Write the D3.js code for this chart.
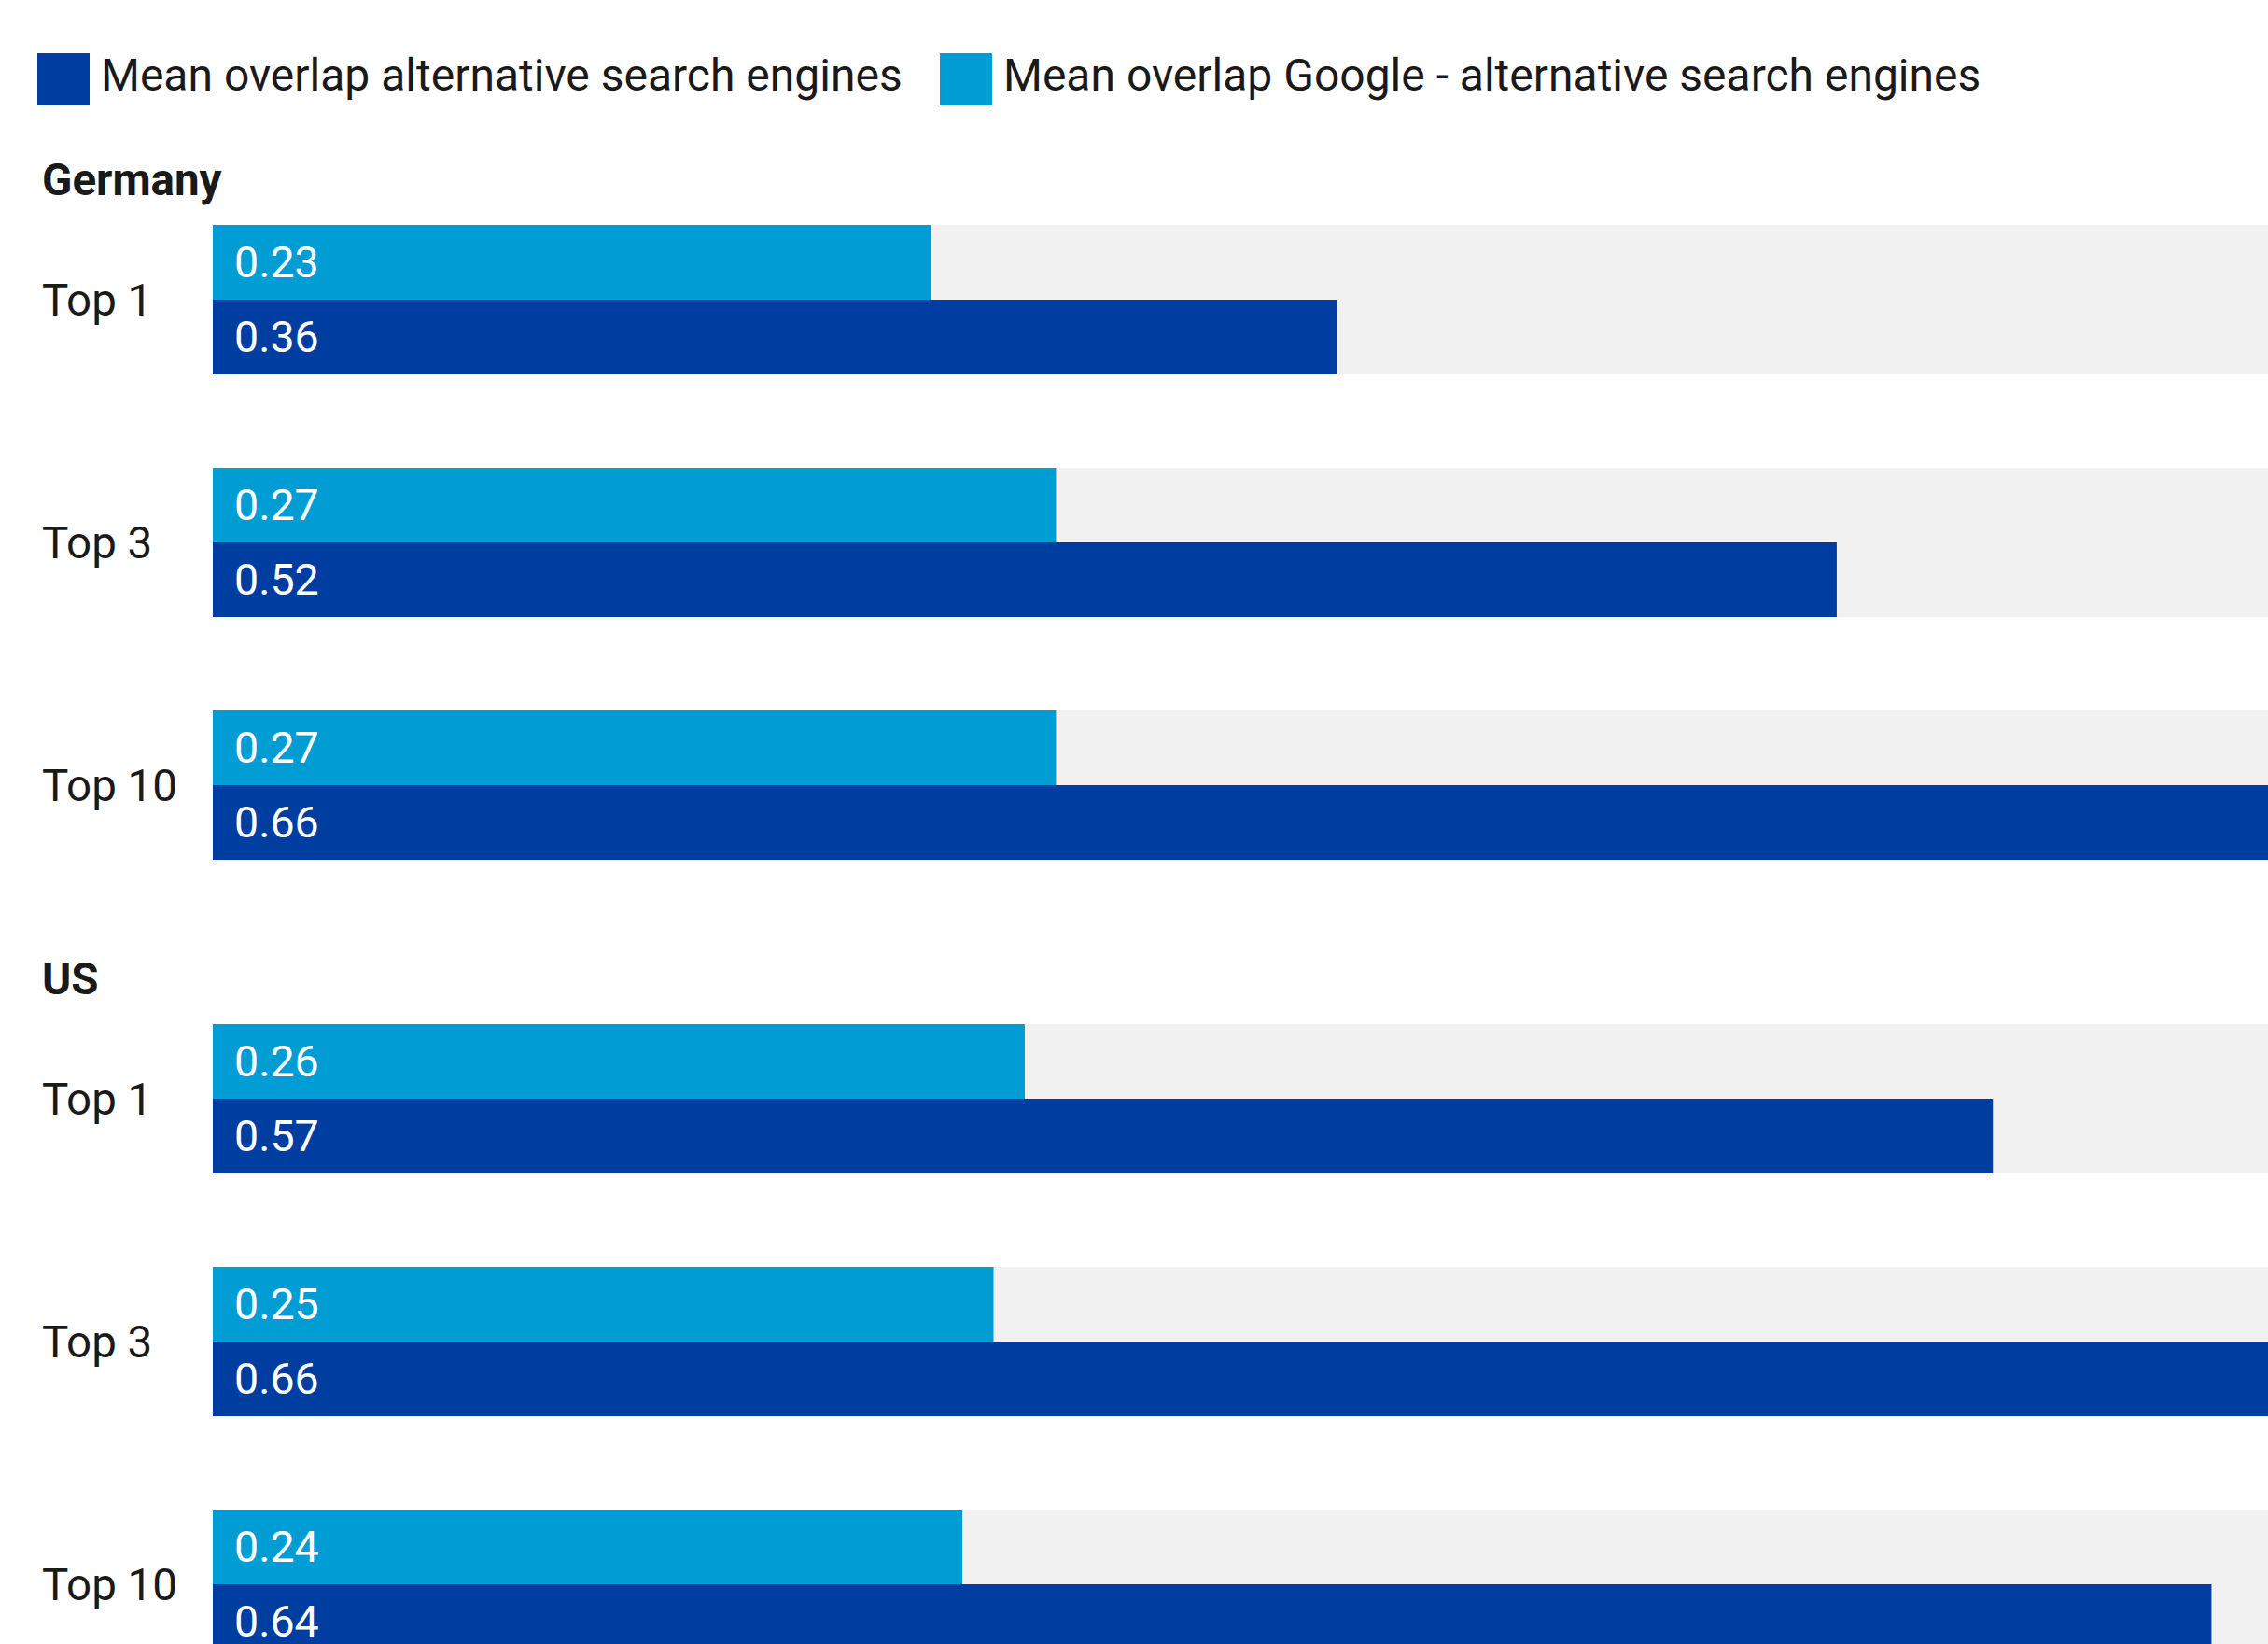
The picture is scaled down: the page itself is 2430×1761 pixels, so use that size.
<!DOCTYPE html>
<html>
<head>
<meta charset="utf-8">
<script src="https://cdn.jsdelivr.net/npm/d3@7"></script>
<style>
  html, body { margin: 0; padding: 0; background: #fff; overflow: hidden; }
  text { font-family: Roboto, "Noto Sans", sans-serif; }
</style>
</head>
<body>
<svg id="chart" width="2430" height="1761"></svg>
<script>
const groups = ["Germany", "US"];
const categories = ["Top 1", "Top 3", "Top 10"];
const seriesNames = ["Mean overlap alternative search engines", "Mean overlap Google - alternative search engines"];
const seriesKeys = ["google", "alt"]; // drawing order: light on top, dark below
const googleAltGermany = [0.23, 0.27, 0.27];
const googleAltUS = [0.26, 0.25, 0.24];
const altAltGermany = [0.36, 0.52, 0.66];
const altAltUS = [0.57, 0.66, 0.64];

const colors = { alt: "#003DA0", google: "#009DD5" };
const bgColor = "#F1F1F1";
const textColor = "#1A1A1A";

const data = {
  Germany: categories.map((c, i) => ({ cat: c, google: googleAltGermany[i], alt: altAltGermany[i] })),
  US: categories.map((c, i) => ({ cat: c, google: googleAltUS[i], alt: altAltUS[i] }))
};

const W = 2430, H = 1761;
const svg = d3.select("#chart");

const x = d3.scaleLinear().domain([0, 0.66]).range([228, 228 + 0.66 * 3346]);
const yGroup = d3.scaleOrdinal().domain(groups).range([241, 1097]);
const yRow = d3.scaleBand().domain(categories).range([0, 680]).paddingInner(100 / 260).paddingOuter(0);
const ySeries = d3.scaleBand().domain(seriesKeys).range([0, yRow.bandwidth()]);

// Legend
const legendItems = [
  { key: "alt", label: seriesNames[0], x: 40 },
  { key: "google", label: seriesNames[1], x: 1007 }
];
const lg = svg.append("g");
legendItems.forEach(d => {
  lg.append("rect").attr("x", d.x).attr("y", 57).attr("width", 56).attr("height", 56).attr("fill", colors[d.key]);
  lg.append("text").attr("x", d.x + 68).attr("y", 80).attr("dy", "0.35em")
    .attr("font-size", 48).attr("fill", textColor).text(d.label);
});

groups.forEach(g => {
  const gy = yGroup(g);
  const gEl = svg.append("g").attr("transform", `translate(0,${gy})`);
  gEl.append("text").attr("x", 45).attr("y", -32).attr("font-size", 47.5).attr("font-weight", "bold")
    .attr("fill", textColor).text(g);

  const rows = gEl.selectAll("g.row").data(data[g]).join("g").attr("class", "row")
    .attr("transform", d => `translate(0,${yRow(d.cat)})`);

  rows.append("rect").attr("x", x(0)).attr("y", 0).attr("width", W - x(0)).attr("height", yRow.bandwidth()).attr("fill", bgColor);

  rows.append("text").attr("x", 45).attr("y", yRow.bandwidth() / 2).attr("dy", "0.35em")
    .attr("font-size", 47.5).attr("fill", textColor).text(d => d.cat);

  seriesKeys.forEach(k => {
    rows.append("rect").attr("x", x(0)).attr("y", ySeries(k))
      .attr("width", d => x(d[k]) - x(0)).attr("height", ySeries.bandwidth()).attr("fill", colors[k]);
    rows.append("text").attr("x", x(0) + 23).attr("y", ySeries(k) + ySeries.bandwidth() / 2).attr("dy", "0.35em")
      .attr("font-size", 46.5).attr("fill", "#fff").text(d => d3.format(".2f")(d[k]));
  });
});
</script>
</body>
</html>
